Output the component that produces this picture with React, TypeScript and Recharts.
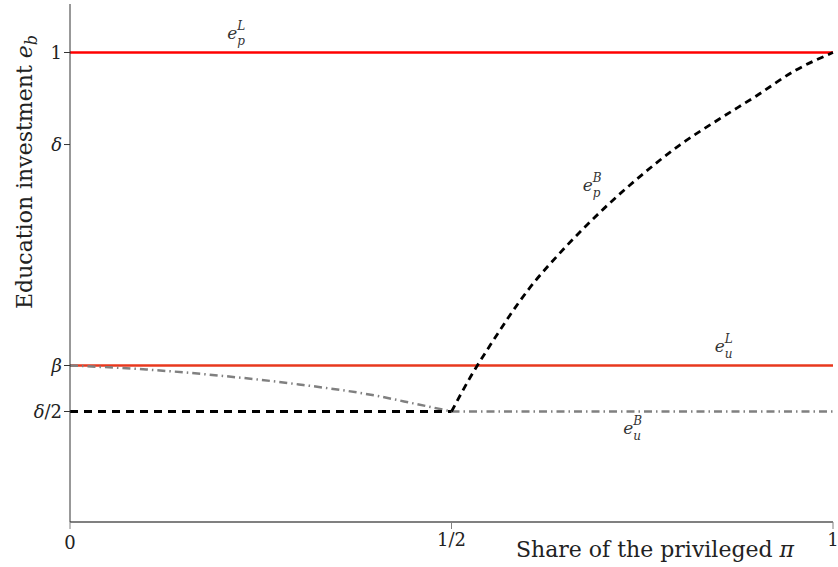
import { LineChart, Line, XAxis, YAxis, ReferenceDot, Label } from 'recharts';

const FONT = 'DejaVu Serif, serif'

// key levels on the vertical axis
const ONE = 1
const DELTA = 0.853
const BETA = 0.5
const HALF_DELTA = 0.4265

const xTicks = [0, 0.5, 1]
const xTickLabels = ['0', '1/2', '1']
const yTicks = [HALF_DELTA, BETA, DELTA, ONE]
const yTickLabels = ['δ/2', 'β', 'δ', '1']

// laissez-faire levels, flat over the whole range
const piFull = [0, 1]
const epL = [ONE, ONE]
const euL = [BETA, BETA]

// e_p^B : flat at δ/2 until 1/2, then rising to 1
const piLeft = [0, 0.5]
const epBLeft = [HALF_DELTA, HALF_DELTA]
const piRise = [0.5, 0.525, 0.55, 0.6, 0.65, 0.7, 0.75, 0.8, 0.85, 0.9, 0.95, 1]
const epBRise = [0.4265, 0.482, 0.531, 0.62, 0.69, 0.751, 0.805, 0.853, 0.893, 0.931, 0.971, 1.0]

// e_u^B : falling from β to δ/2, then flat
const piFall = [0, 0.1, 0.2, 0.3, 0.4, 0.45, 0.5]
const euBFall = [0.5, 0.4936, 0.4834, 0.4698, 0.452, 0.4395, 0.4265]
const piRight = [0.5, 1]
const euBRight = [HALF_DELTA, HALF_DELTA]

// where the curve names sit (data coords)
const seriesNames = [
  { x: 0.206, y: 1.021, sup: 'L', sub: 'p' },
  { x: 0.672, y: 0.778, sup: 'B', sub: 'p' },
  { x: 0.845, y: 0.522, sup: 'L', sub: 'u' },
  { x: 0.725, y: 0.39, sup: 'B', sub: 'u' },
]

const toPoints = (xs: number[], ys: number[]) => xs.map((x, i) => ({ x, y: ys[i] }))

const serif = { fontFamily: FONT }

function XTick({ x, y, payload }: any) {
  const i = xTicks.indexOf(payload.value)
  return (
    <text x={x} y={y} dy={i === 0 ? 18 : 15} textAnchor="middle" style={serif} fontSize={18} fill="#222">
      {xTickLabels[i]}
    </text>
  )
}

function YTick({ x, y, payload }: any) {
  const i = yTicks.indexOf(payload.value)
  const label = yTickLabels[i]
  return (
    <text x={x} y={y} dy={6} textAnchor="end" style={serif} fontSize={18} fill="#222">
      {label === '1' ? '1' : (
        <>
          <tspan fontStyle="italic">{label[0]}</tspan>
          {label.slice(1)}
        </>
      )}
    </text>
  )
}

function NameLabel({ viewBox, sup, sub }: any) {
  const { x, y } = viewBox
  return (
    <g style={serif} fill="#333" fontStyle="italic">
      <text x={x} y={y} fontSize={17} style={serif}>e</text>
      <text x={x + 10} y={y - 9} fontSize={12} style={serif}>{sup}</text>
      <text x={x + 10} y={y + 6} fontSize={12} style={serif}>{sub}</text>
    </g>
  )
}

export default function App() {
  return (
    <div style={{ position: 'absolute', left: 0, top: 0, background: '#fff' }}>
      <LineChart width={838} height={567} margin={{ top: 4, right: 5, bottom: 0, left: 0 }}>
        <XAxis
          type="number"
          dataKey="x"
          domain={[0, 1]}
          ticks={xTicks}
          height={45}
          tickSize={7}
          stroke="#808080"
          axisLine={{ strokeWidth: 2 }}
          tick={<XTick />}
        >
          <Label
            content={() => (
              <text x={655} y={557} textAnchor="middle" style={serif} fontSize={22} fill="#222">
                Share of the privileged <tspan fontStyle="italic">π</tspan>
              </text>
            )}
          />
        </XAxis>
        <YAxis
          type="number"
          domain={[0.25, 1.0775]}
          ticks={yTicks}
          width={70}
          tickSize={6}
          stroke="#333"
          tick={<YTick />}
          allowDataOverflow
        >
          <Label
            content={() => (
              <text x={32} y={172} transform="rotate(-90, 32, 172)" textAnchor="middle" style={serif} fontSize={22} fill="#222">
                Education investment <tspan fontStyle="italic">e</tspan>
                <tspan fontStyle="italic" fontSize={16} dy={5}>b</tspan>
              </text>
            )}
          />
        </YAxis>

        <Line data={toPoints(piFull, epL)} dataKey="y" stroke="#ff0000" strokeWidth={2.6} dot={false} activeDot={false} isAnimationActive={false} />
        <Line data={toPoints(piFull, euL)} dataKey="y" stroke="#e8381e" strokeWidth={2.6} dot={false} activeDot={false} isAnimationActive={false} />

        <Line data={toPoints(piFall, euBFall)} dataKey="y" type="monotone" stroke="#808080" strokeWidth={2.5} strokeDasharray="8 4 1.5 4" dot={false} activeDot={false} isAnimationActive={false} />
        <Line data={toPoints(piRight, euBRight)} dataKey="y" stroke="#808080" strokeWidth={2.5} strokeDasharray="8 4 1.5 4" dot={false} activeDot={false} isAnimationActive={false} />

        <Line data={toPoints(piLeft, epBLeft)} dataKey="y" stroke="#000" strokeWidth={2.8} strokeDasharray="8 6" dot={false} activeDot={false} isAnimationActive={false} />
        <Line data={toPoints(piRise, epBRise)} dataKey="y" type="monotone" stroke="#000" strokeWidth={2.8} strokeDasharray="7 5" dot={false} activeDot={false} isAnimationActive={false} />

        {seriesNames.map((s, i) => (
          <ReferenceDot
            key={i}
            x={s.x}
            y={s.y}
            r={0.01}
            fill="none"
            stroke="none"
            label={<NameLabel sup={s.sup} sub={s.sub} />}
          />
        ))}
      </LineChart>
    </div>
  )
}
